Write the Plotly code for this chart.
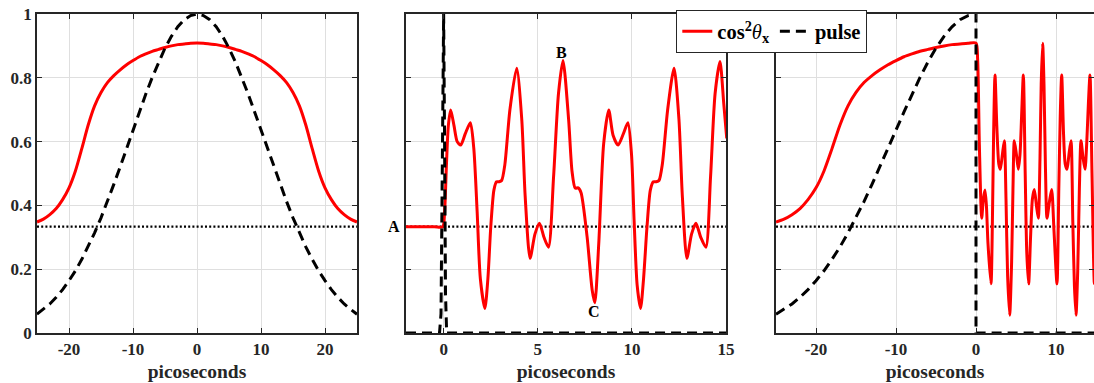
import plotly.graph_objects as go

W, H = 1094, 383

def fx(px):
    return px / W

def fy(py):
    return 1 - py / H

# ---------------- data ----------------
# Panel 1: adiabatic alignment under a long (Gaussian) pulse
t_long = list(range(-25, 26))
align_long = [0.348, 0.357, 0.371, 0.390, 0.418, 0.455, 0.508, 0.578, 0.652, 0.712,
              0.754, 0.785, 0.807, 0.825, 0.841, 0.854, 0.866, 0.875, 0.883, 0.889,
              0.895, 0.900, 0.904, 0.906, 0.908, 0.909,
              0.908, 0.906, 0.904, 0.900, 0.895, 0.889, 0.883, 0.875, 0.866, 0.854,
              0.841, 0.825, 0.807, 0.785, 0.754, 0.712, 0.652, 0.578, 0.508, 0.455,
              0.418, 0.390, 0.371, 0.357, 0.348]
pulse_long = [0.059, 0.074, 0.091, 0.112, 0.136, 0.164, 0.195, 0.231, 0.270, 0.314,
              0.361, 0.412, 0.466, 0.521, 0.579, 0.636, 0.693, 0.749, 0.801, 0.850,
              0.893, 0.930, 0.960, 0.982, 0.995, 1.000,
              0.995, 0.982, 0.960, 0.930, 0.893, 0.850, 0.801, 0.749, 0.693, 0.636,
              0.579, 0.521, 0.466, 0.412, 0.361, 0.314, 0.270, 0.231, 0.195, 0.164,
              0.136, 0.112, 0.091, 0.074, 0.059]

# Panel 2: impulsive kick by a short pulse, then revivals
t_kick = [-2, -0.5, -0.05, 0.05, 0.15, 0.25, 0.374, 0.55, 0.72, 0.908, 1.15, 1.42, 1.6,
          1.78, 1.95, 2.19, 2.35, 2.5, 2.67, 2.81, 2.95, 3.08, 3.25, 3.52, 3.88, 4.15,
          4.33, 4.59, 4.85, 5.09, 5.33, 5.57, 5.84, 6.1, 6.34, 6.64, 6.82, 6.99, 7.15,
          7.3, 7.62, 7.89, 8.03, 8.24, 8.5, 8.77, 9.0, 9.27, 9.55, 9.79, 9.98, 10.12,
          10.28, 10.46, 10.62, 10.8, 10.98, 11.14, 11.3, 11.44, 11.62, 11.9, 12.24,
          12.5, 12.68, 12.92, 13.17, 13.4, 13.66, 13.93, 14.18, 14.42, 14.68, 14.88, 15.04]
align_kick = [0.333, 0.333, 0.333, 0.38, 0.53, 0.65, 0.699, 0.65, 0.60, 0.589, 0.625,
              0.659, 0.58, 0.38, 0.17, 0.077, 0.17, 0.33, 0.448, 0.474, 0.474, 0.478,
              0.527, 0.70, 0.83, 0.67, 0.43, 0.234, 0.31, 0.344, 0.30, 0.269, 0.49,
              0.75, 0.854, 0.668, 0.507, 0.454, 0.455, 0.44, 0.302, 0.135, 0.095, 0.28,
              0.593, 0.699, 0.62, 0.589, 0.625, 0.659, 0.56, 0.35, 0.15, 0.077, 0.17,
              0.33, 0.448, 0.474, 0.474, 0.478, 0.53, 0.70, 0.83, 0.67, 0.43, 0.234,
              0.31, 0.344, 0.30, 0.269, 0.49, 0.75, 0.851, 0.72, 0.61]
t_kick_pulse = [-2, -0.22, -0.14, -0.07, 0.0, 0.05, 0.1, 0.16, 15]
kick_pulse = [0.0, 0.0, 0.06, 0.5, 1.0, 0.6, 0.12, 0.0, 0.0]

# Panel 3: long rise, pulse switched off abruptly at t = 0
t_after = [0.2, 0.42, 0.71, 0.92, 1.12, 1.3, 1.5, 1.875, 2.05, 2.2, 2.375, 2.6, 2.85,
           3.04, 3.3, 3.54, 3.75, 3.95, 4.21, 4.45, 4.62, 4.79, 5.05, 5.29, 5.5, 5.7,
           5.92, 6.15, 6.35, 6.58, 6.82, 7.05, 7.29, 7.55, 7.79, 8.0, 8.15, 8.33, 8.5,
           8.68, 8.875, 9.17, 9.46, 9.75, 10.125, 10.35, 10.53, 10.71, 10.95, 11.15,
           11.375, 11.62, 11.875, 12.1, 12.3, 12.5, 12.72, 12.92, 13.125, 13.375,
           13.625, 13.85, 14.05, 14.25, 14.5, 14.8, 15.0]
align_after = [0.86, 0.59, 0.36, 0.42, 0.448, 0.40, 0.28, 0.154, 0.35, 0.62, 0.809,
               0.65, 0.53, 0.513, 0.56, 0.603, 0.42, 0.18, 0.056, 0.22, 0.45, 0.603,
               0.56, 0.513, 0.56, 0.68, 0.809, 0.50, 0.25, 0.154, 0.30, 0.42, 0.45,
               0.40, 0.36, 0.55, 0.78, 0.908, 0.78, 0.52, 0.36, 0.41, 0.45, 0.32, 0.154,
               0.45, 0.68, 0.809, 0.62, 0.53, 0.513, 0.56, 0.603, 0.35, 0.15, 0.056,
               0.20, 0.45, 0.603, 0.55, 0.513, 0.60, 0.72, 0.809, 0.50, 0.154, 0.25]
t_off_pulse_tail = [0.0, 15.0]
off_pulse_tail = [0.0, 0.0]

isotropic = 1 / 3
x_ranges = [(-25, 25), (-2, 15), (-25, 15)]
x_ticks = [[-20, -10, 0, 10, 20], [0, 5, 10, 15], [-20, -10, 0, 10]]
x_tick_labels = [["-20", "-10", "0", "10", "20"], ["0", "5", "10", "15"],
                 ["-20", "-10", "0", "10"]]
y_ticks = [0, 0.2, 0.4, 0.6, 0.8, 1]
y_tick_labels = ["0", "0.2", "0.4", "0.6", "0.8", "1"]

# ---------------- styling ----------------
RED = "#ff0000"
AX = "#262626"
GRID = "#dfdfdf"
FONT = "Liberation Serif"
# panel frames in page pixels: (left, right); panel 3 runs past the right edge
frames = [(37, 357), (406, 726), (776, 1096)]
y_dom = (fy(333), fy(14))

fig = go.Figure()

def add_panel(i, xs_red, ys_red, xs_p, ys_p, show):
    xa = "x" if i == 0 else f"x{i+1}"
    ya = "y" if i == 0 else f"y{i+1}"
    lo, hi = x_ranges[i]
    fig.add_trace(go.Scatter(x=[lo, hi], y=[isotropic, isotropic], mode="lines",
                             line=dict(color="black", width=2.2, dash="2px,2.2px"),
                             showlegend=False, xaxis=xa, yaxis=ya, hoverinfo="skip"))
    fig.add_trace(go.Scatter(x=xs_red, y=ys_red, mode="lines",
                             line=dict(color=RED, width=3, shape="spline", smoothing=0.7),
                             name="<b>cos<sup>2</sup></b><i>θ</i><b><sub>x</sub></b>",
                             showlegend=show, xaxis=xa, yaxis=ya))
    fig.add_trace(go.Scatter(x=xs_p, y=ys_p, mode="lines",
                             line=dict(color="black", width=3, dash="10px,6px"),
                             name="<b>pulse</b>",
                             showlegend=show, xaxis=xa, yaxis=ya))

add_panel(0, t_long, align_long, t_long, pulse_long, False)
add_panel(1, t_kick, align_kick, t_kick_pulse, kick_pulse, True)
add_panel(2, t_long[:26] + t_after, align_long[:26] + align_after,
          t_long[:26] + t_off_pulse_tail, pulse_long[:26] + off_pulse_tail, False)

layout = dict(width=W, height=H, margin=dict(l=0, r=0, t=0, b=0, autoexpand=False),
              paper_bgcolor="white", plot_bgcolor="white",
              font=dict(family=FONT, color=AX, size=17),
              showlegend=True,
              legend=dict(orientation="h", x=fx(676), y=fy(10), xanchor="left",
                          yanchor="top", bgcolor="white", bordercolor=AX, borderwidth=1.3,
                          font=dict(family=FONT, size=20.5, color="black"),
                          itemwidth=30, tracegroupgap=0))

bold = lambda labels: [f"<b>{s}</b>" for s in labels]

for i in range(3):
    k = "" if i == 0 else str(i + 1)
    left, right = frames[i]
    lo, hi = x_ranges[i]
    if right > W:  # clipped panel: keep the same px-per-unit scale
        scale = (right - left) / (hi - lo)
        right = W
        hi = lo + (right - left) / scale
    layout["xaxis" + k] = dict(
        domain=[fx(left), fx(right)], range=[lo, hi],
        anchor="y" + k, tickvals=x_ticks[i], ticktext=bold(x_tick_labels[i]),
        ticks="inside", ticklen=5, tickwidth=1.3, automargin=False,
        ticklabeloverflow="allow",
        tickcolor=AX, showline=True, linecolor=AX, linewidth=1.5, mirror="ticks",
        showgrid=True, gridcolor=GRID, gridwidth=1, zeroline=False,
        tickfont=dict(family=FONT, size=17, color=AX),
        title=dict(text="<b>picoseconds</b>", font=dict(family=FONT, size=19.5, color=AX),
                   standoff=6))
    layout["yaxis" + k] = dict(
        domain=list(y_dom), range=[0, 1], anchor="x" + k, tickvals=y_ticks,
        ticktext=bold(y_tick_labels), showticklabels=(i == 0), automargin=False,
        ticklabeloverflow="allow",
        ticks="inside", ticklen=5, tickwidth=1.3, tickcolor=AX, showline=True,
        linecolor=AX, linewidth=1.5, mirror="ticks", showgrid=True, gridcolor=GRID,
        gridwidth=1, zeroline=False,
        tickfont=dict(family=FONT, size=17, color=AX))

fig.update_layout(**layout)

ann_font = dict(family=FONT, size=16, color="black")
fig.add_annotation(text="<b>A</b>", x=fx(394), xref="paper", y=isotropic, yref="y2",
                   showarrow=False, font=ann_font)
fig.add_annotation(text="<b>B</b>", x=6.28, xref="x2", y=0.878, yref="y2",
                   showarrow=False, font=ann_font)
fig.add_annotation(text="<b>C</b>", x=8.0, xref="x2", y=0.067, yref="y2",
                   showarrow=False, font=ann_font)

# the page body has a default 8px margin; remove it so the figure fills the window
fig.write_html("out.html", config={"displayModeBar": False},
               post_script="document.body.style.margin='0';document.body.style.overflow='hidden';")
